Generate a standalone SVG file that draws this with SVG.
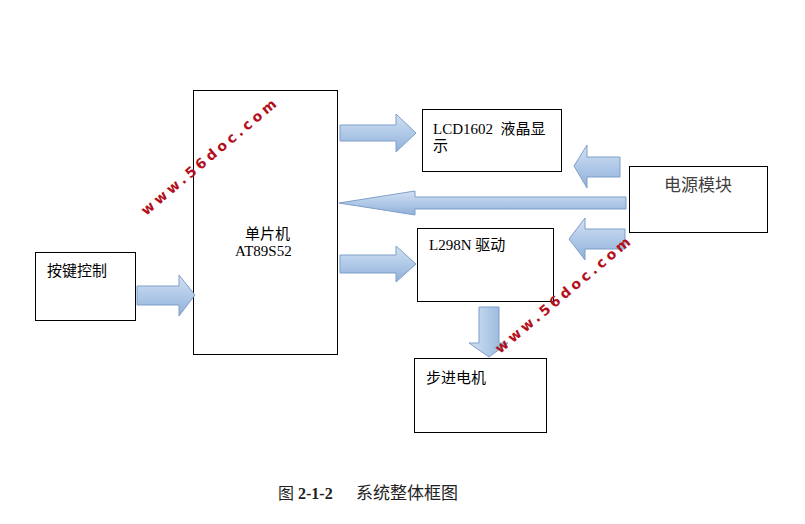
<svg xmlns="http://www.w3.org/2000/svg" width="805" height="524" viewBox="0 0 805 524">
<defs>
<linearGradient id="gv" x1="0" y1="0" x2="0" y2="1">
<stop offset="0" stop-color="#d3e1f3"/>
<stop offset="0.5" stop-color="#b0c9e8"/>
<stop offset="1" stop-color="#8fb0d8"/>
</linearGradient>
<linearGradient id="gh" x1="0" y1="0" x2="1" y2="0">
<stop offset="0" stop-color="#d3e1f3"/>
<stop offset="0.5" stop-color="#b0c9e8"/>
<stop offset="1" stop-color="#8fb0d8"/>
</linearGradient>
<style>
.box{fill:#fff;stroke:#000;stroke-width:1}
.t{font-family:"Liberation Serif","Noto Sans CJK SC",serif;font-size:15px;fill:#000}
.arr{fill:url(#gv);stroke:#7f9fc8;stroke-width:1}
.arrd{fill:url(#gh);stroke:#7f9fc8;stroke-width:1}
.wm{font-family:"DejaVu Sans",sans-serif;font-weight:bold;font-size:14px;letter-spacing:3.6px;fill:#b3101c}
</style>
</defs>
<rect width="805" height="524" fill="#fff"/>
<g id="mcu">
<rect class="box" x="193.5" y="90.5" width="144" height="264"/>
<text class="t" x="245" y="239">单片机</text>
<text class="t" x="235" y="256">AT89S52</text>
</g>
<g id="lcd">
<rect class="box" x="422.5" y="109.5" width="139" height="62"/>
<text class="t" x="433" y="134" xml:space="preserve">LCD1602  液晶显</text>
<text class="t" x="433" y="151">示</text>
</g>
<g id="power">
<rect class="box" x="629.5" y="166.5" width="138" height="66"/>
<text class="t" x="664" y="191" style="font-size:17px;fill:#404040">电源模块</text>
</g>
<g id="driver">
<rect class="box" x="417.5" y="228.5" width="136" height="73"/>
<text class="t" x="429" y="250">L298N 驱动</text>
</g>
<g id="motor">
<rect class="box" x="414.5" y="358.5" width="132" height="74"/>
<text class="t" x="426" y="383">步进电机</text>
</g>
<g id="keys">
<rect class="box" x="35.5" y="252.5" width="100" height="68"/>
<text class="t" x="47" y="276">按键控制</text>
</g>
<g id="connectors">
<path class="arr" d="M340,125 H396 V114 L416,133 L396,152 V141 H340 Z"/>
<path class="arr" d="M620,157 H587 V145 L574,166 L587,188 V177 H620 Z"/>
<path class="arr" d="M626,197 H415 V191 L339,203 L415,215 V209 H626 Z"/>
<path class="arr" d="M625,229 H585 V218 L569,239 L585,260 V249 H625 Z"/>
<path class="arr" d="M340,255 H396 V246 L416,264 L396,282 V273 H340 Z"/>
<path class="arr" d="M137,286 H179 V275 L195,295 L179,316 V305 H137 Z"/>
<path class="arrd" d="M479,307 H499 V343 H508 L489,357 L469,343 H479 Z"/>
</g>
<g id="watermarks">
<text class="wm" transform="translate(146,216) rotate(-40)">www.56doc.com</text>
<text class="wm" transform="translate(500,354) rotate(-40)">www.56doc.com</text>
</g>
<g id="caption">
<text class="t" x="278" y="499" style="font-size:16px;fill:#222">图 <tspan style="font-weight:bold">2-1-2</tspan></text>
<text class="t" x="356" y="499" style="font-size:17px;fill:#222">系统整体框图</text>
</g>
</svg>
